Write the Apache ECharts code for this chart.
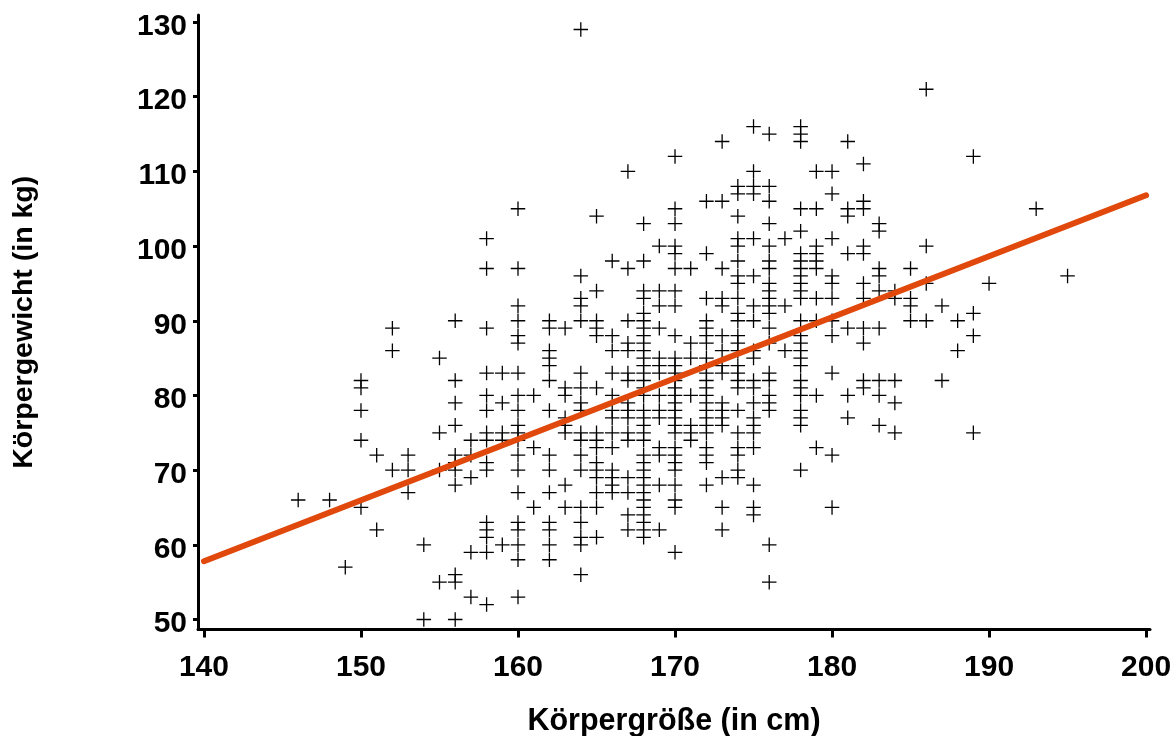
<!DOCTYPE html>
<html><head><meta charset="utf-8">
<style>html,body{margin:0;padding:0;background:#fff}#c{width:1176px;height:736px}</style>
<script src="https://cdn.jsdelivr.net/npm/echarts@6/dist/echarts.min.js"></script>
</head><body><div id="c"></div>
<script>
const xTicks = [140,150,160,170,180,190,200];
const yTicks = [50,60,70,80,90,100,110,120,130];
const heights = [146,148,149,150,151,152,153,154,155,156,157,158,159,160,161,162,163,164,165,166,167,168,169,170,171,172,173,174,175,176,177,178,179,180,181,182,183,184,185,186,187,188,189,190,193,195];
const weights = [
[66],[66],[57],[82,81,78,74,65],[72,62],[89,86,70],[72,70,67],[60,50],[85,75,70,55],
[90,82,79,76,72,71,70,68,56,55,50],[74,72,69,59,53],
[101,97,89,83,80,78,75,74,71,70,63,62,61,59,52],[83,79,75,74,60],
[105,97,92,90,88,87,83,80,78,76,75,74,72,70,67,63,62,60,58,53],[80,73,65],
[90,89,86,85,84,82,78,72,70,67,63,62,60,58],[89,81,80,77,76,75,68,65],
[129,96,93,92,90,83,81,79,78,75,74,72,70,65,63,61,60,56],
[104,94,90,89,88,81,75,74,73,71,70,69,67,65,61],
[98,88,86,83,80,78,77,75,73,70,69,68,67],
[110,97,90,87,86,83,82,79,78,77,75,74,69,67,64,62],
[103,98,94,93,91,90,89,88,87,86,85,84,83,82,81,80,78,77,76,75,74,72,71,70,69,68,67,66,65,64,63,62,61],
[100,94,92,89,85,84,83,80,78,77,73,72,68,62],
[112,105,103,100,99,97,94,92,88,85,84,83,82,81,80,79,78,77,76,75,73,72,71,70,68,66,65,59],
[97,87,85,80,76,75,74],
[106,99,93,90,89,88,87,85,84,83,82,81,80,79,78,77,76,75,73,72,71,68],
[114,106,97,93,92,88,86,84,83,79,78,77,76,69,65,62],
[108,107,104,101,100,98,96,95,93,91,90,88,87,86,84,83,82,81,78,75,73,72,70,69],
[116,110,108,107,101,96,92,90,86,85,82,81,79,77,76,75,73,68,65,64],
[115,108,106,103,100,98,97,95,94,93,92,91,89,87,83,82,80,79,78,60,55],
[101,92,86],
[116,115,114,105,102,99,98,97,96,95,94,93,90,88,87,86,85,84,82,81,80,78,77,76,70],
[110,105,100,99,98,97,93,90,80,73],
[110,107,101,96,95,93,90,88,83,72,65],
[114,105,104,99,89,80,77],
[111,106,105,100,99,95,93,89,87,82,81],
[103,102,97,96,94,89,82,80,76],
[94,93,82,79,75],
[97,93,92,90],
[121,100,95,90],
[92,82],
[90,86],
[112,91,88,75],
[95],[105],[96]
];
const fitHeights = [140,200];
const fitWeights = [57.8,106.8];

const points = [];
heights.forEach((h,i)=>weights[i].forEach(w=>points.push([h,w])));

const font = 'Liberation Sans';
const txt = {fontFamily:font,fontWeight:'bold',fontSize:30,color:'#000'};
const chart = echarts.init(document.getElementById('c'),null,{renderer:'canvas'});
chart.setOption({
  animation:false,
  backgroundColor:'#fff',
  grid:{left:198,top:15,width:952,height:614.5,containLabel:false,outerBoundsMode:'none'},
  xAxis:{
    type:'value',min:139.62,max:200.25,
    name:'Körpergröße (in cm)',nameLocation:'middle',nameGap:77,nameTextStyle:{...txt,fontSize:30.5},
    axisLine:{show:true,lineStyle:{color:'#000',width:3}},
    axisTick:{show:true,length:8,lineStyle:{color:'#000',width:3},customValues:xTicks},
    axisLabel:{...txt,margin:23,customValues:xTicks},
    splitLine:{show:false}
  },
  yAxis:{
    type:'value',min:48.66,max:130.94,
    name:'Körpergewicht (in kg)',nameLocation:'middle',nameGap:159,nameRotate:90,nameTextStyle:{...txt,fontSize:28.5},
    axisLine:{show:true,lineStyle:{color:'#000',width:3}},
    axisTick:{show:true,length:5,lineStyle:{color:'#000',width:3},customValues:yTicks},
    axisLabel:{...txt,margin:11,verticalAlign:'top',lineHeight:9,customValues:yTicks},
    splitLine:{show:false}
  },
  series:[
    {type:'scatter',data:points,clip:false,symbol:'path://M0 7H14M7 0V14',symbolSize:14.5,
     itemStyle:{color:'transparent',borderColor:'#000',borderWidth:1.3,opacity:1}},
    {type:'line',data:fitHeights.map((h,i)=>[h,fitWeights[i]]),showSymbol:false,clip:false,
     lineStyle:{color:'#E0480C',width:6,cap:'round'}}
  ]
});
</script></body></html>
